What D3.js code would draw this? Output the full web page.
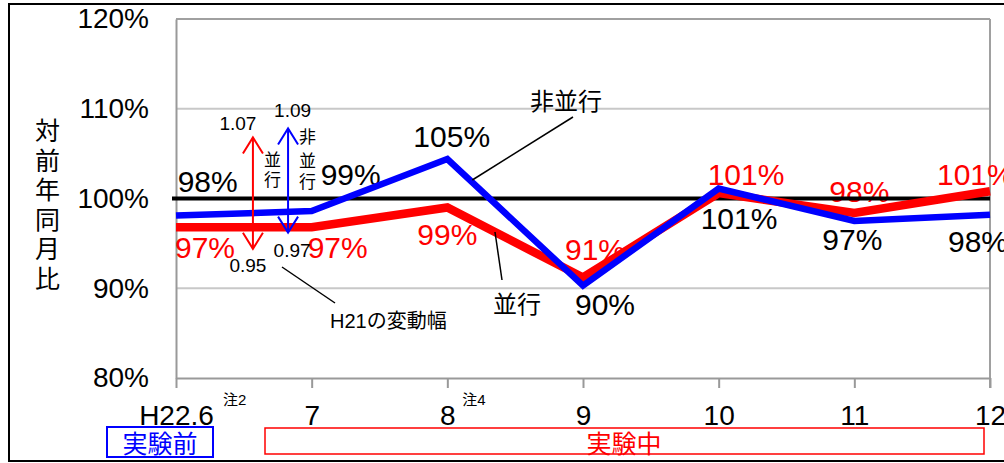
<!DOCTYPE html>
<html>
<head>
<meta charset="utf-8">
<script src="https://cdn.jsdelivr.net/npm/d3@7"></script>
<style>
  html, body { margin: 0; padding: 0; background: #fff; }
  svg { display: block; font-family: "Liberation Sans", Arial, "Noto Sans CJK JP", sans-serif; }
</style>
</head>
<body>
<svg id="chart" width="1004" height="463"></svg>
<script>
// ---- data ----
const categories = ["H22.6", "7", "8", "9", "10", "11", "12"];
const heikou   = [96.8, 96.8, 99.0, 91.2, 100.6, 98.4, 100.8];   // 並行 (red)
const hiheikou = [98.1, 98.6, 104.4, 90.3, 101.1, 97.5, 98.2];   // 非並行 (blue)
const heikouLabels   = ["97%", "97%", "99%", "91%", "101%", "98%", "101%"];
const hiheikouLabels = ["98%", "99%", "105%", "90%", "101%", "97%", "98%"];
const yTicks = [80, 90, 100, 110, 120];
const yTickLabels = ["80%", "90%", "100%", "110%", "120%"];
const baseline = 100;
// H21 variation ranges (並行, 非並行)
const rangeLabelsTop = ["1.07", "1.09"];
const rangeLabelsBottom = ["0.95", "0.97"];
const rangeTop = [106.8, 107.8];
const rangeBottom = [94.4, 96.2];

// ---- layout ----
const heikouOffsets   = [[-1, 31], [-4, 31], [-30, 37.5], [-18, -17], [-11, -8], [-25, -11], [-53, -6]];
const hiheikouOffsets = [[1.7, -24], [9, -26], [-34, -12], [-8, 29.5], [-18, 40], [-32, 29], [-42, 37.6]];

const svg = d3.select("#chart");
const x = d3.scalePoint().domain(categories).range([176, 990]);
const y = d3.scaleLinear().domain([80, 120]).range([378, 19]);
const step = x.step();

// outer border
svg.append("rect").attr("x", 9).attr("y", 4).attr("width", 1010).attr("height", 457)
  .attr("fill", "none").attr("stroke", "#000").attr("stroke-width", 2);

// gridlines
svg.append("g").selectAll("line").data(yTicks.filter(d => d > 80)).join("line")
  .attr("x1", 176).attr("x2", 990)
  .attr("y1", d => y(d)).attr("y2", d => y(d))
  .attr("stroke", d => d === 120 ? "#a0a0a0" : "#c8c8c8").attr("stroke-width", 2);
// right frame
svg.append("line").attr("x1", 990).attr("x2", 990).attr("y1", y(120)).attr("y2", y(80) + 10)
  .attr("stroke", "#a0a0a0").attr("stroke-width", 2);

// y axis
const yAxis = d3.axisLeft(y).tickValues(yTicks).tickFormat((d, i) => yTickLabels[i]).tickSize(0).tickPadding(27);
const gy = svg.append("g").attr("transform", "translate(176,0)").call(yAxis);
gy.select(".domain").attr("stroke", "#999").attr("stroke-width", 2);
gy.selectAll("text").attr("font-size", 28).attr("fill", "#000")
  .attr("font-family", "'Liberation Sans', Arial, sans-serif");

// x axis
const xAxis = d3.axisBottom(x).tickSize(10).tickSizeOuter(0).tickPadding(0);
const gx = svg.append("g").attr("transform", "translate(0,378)").call(xAxis);
gx.select(".domain").attr("stroke", "#999").attr("stroke-width", 2);
gx.selectAll(".tick line").attr("stroke", "#999").attr("stroke-width", 2);
gx.selectAll("text").attr("font-size", 28).attr("fill", "#000").attr("dy", null).attr("y", 47)
  .attr("font-family", "'Liberation Sans', Arial, sans-serif");

// 注 superscripts
svg.append("text").attr("x", x("H22.6") + 47).attr("y", 405).attr("font-size", 15).text("注2");
svg.append("text").attr("x", x("8") + 15).attr("y", 405).attr("font-size", 15).text("注4");

// y title (vertical)
const yTitle = "対前年同月比".split("");
svg.append("g").selectAll("text").data(yTitle).join("text")
  .attr("x", 47.5).attr("y", (d, i) => 129 + i * 29.6)
  .attr("text-anchor", "middle").attr("dominant-baseline", "central")
  .attr("font-size", 25).attr("font-family", "'Noto Sans CJK JP', sans-serif")
  .text(d => d);

// data labels (drawn beneath lines)
svg.append("g").selectAll("text").data(categories).join("text")
  .attr("x", (d, i) => x(d) + hiheikouOffsets[i][0])
  .attr("y", (d, i) => y(hiheikou[i]) + hiheikouOffsets[i][1])
  .attr("font-size", 30).attr("fill", "#000").text((d, i) => hiheikouLabels[i]);
svg.append("g").selectAll("text").data(categories).join("text")
  .attr("x", (d, i) => x(d) + heikouOffsets[i][0])
  .attr("y", (d, i) => y(heikou[i]) + heikouOffsets[i][1])
  .attr("font-size", 30).attr("fill", "#ff0000").text((d, i) => heikouLabels[i]);

// 100% baseline
svg.append("line").attr("x1", 172).attr("x2", 990)
  .attr("y1", y(baseline)).attr("y2", y(baseline))
  .attr("stroke", "#000").attr("stroke-width", 4);

// series lines
const line = d3.line().x((d, i) => x(categories[i])).y(d => y(d));
svg.append("path").datum(heikou).attr("d", line)
  .attr("fill", "none").attr("stroke", "#ff0000").attr("stroke-width", 8.5)
  .attr("stroke-linejoin", "miter");
svg.append("path").datum(hiheikou).attr("d", line)
  .attr("fill", "none").attr("stroke", "#0000ff").attr("stroke-width", 6.5)
  .attr("stroke-linejoin", "miter");

// series callouts
svg.append("line").attr("x1", 573).attr("y1", 117).attr("x2", x("8") + 25).attr("y2", y(hiheikou[2]) + 21)
  .attr("stroke", "#000").attr("stroke-width", 1.5);
svg.append("text").attr("x", 530).attr("y", 110).attr("font-size", 24)
  .attr("font-family", "'Noto Sans CJK JP', sans-serif").text("非並行");
svg.append("line").attr("x1", 495).attr("y1", 232).attr("x2", 502).attr("y2", 280)
  .attr("stroke", "#000").attr("stroke-width", 1.5);
svg.append("text").attr("x", 493).attr("y", 313).attr("font-size", 24)
  .attr("font-family", "'Noto Sans CJK JP', sans-serif").text("並行");

// H21 range arrows
const arrowColors = ["#ff0000", "#0000ff"];
const arrowFrac = [0.567, 0.826];
const arrowX = arrowFrac.map(f => x(categories[0]) + f * step);
const topLabelShift = [[-15, -7], [4.5, -11]];
const ag = svg.append("g");
arrowX.forEach((ax, i) => {
  const t = y(rangeTop[i]), b = y(rangeBottom[i]);
  ag.append("line").attr("x1", ax).attr("x2", ax).attr("y1", t).attr("y2", b)
    .attr("stroke", arrowColors[i]).attr("stroke-width", 2);
  ag.append("path").attr("d", `M${ax - 10},${t + 16}L${ax},${t}L${ax + 10},${t + 16}`)
    .attr("fill", "none").attr("stroke", arrowColors[i]).attr("stroke-width", 2);
  ag.append("path").attr("d", `M${ax - 10},${b - 16}L${ax},${b}L${ax + 10},${b - 16}`)
    .attr("fill", "none").attr("stroke", arrowColors[i]).attr("stroke-width", 2);
  ag.append("text").attr("x", ax + topLabelShift[i][0]).attr("y", t + topLabelShift[i][1])
    .attr("text-anchor", "middle").attr("font-size", 19).text(rangeLabelsTop[i]);
});
// bottom values
ag.append("text").attr("x", arrowX[0] - 5).attr("y", 272).attr("text-anchor", "middle")
  .attr("font-size", 19).text(rangeLabelsBottom[0]);
ag.append("text").attr("x", arrowX[1] + 4).attr("y", 257).attr("text-anchor", "middle")
  .attr("font-size", 19).text(rangeLabelsBottom[1]);
// vertical labels
const vlab = [["並", "行"], ["非", "並", "行"]];
const vlabY = [[158, 178], [135, 159, 180]];
vlab.forEach((chars, i) => {
  ag.append("g").selectAll("text").data(chars).join("text")
    .attr("x", arrowX[i] + 19.5).attr("y", (d, j) => vlabY[i][j])
    .attr("text-anchor", "middle").attr("dominant-baseline", "central")
    .attr("font-size", 17).attr("font-family", "'Noto Sans CJK JP', sans-serif").text(d => d);
});
ag.append("line").attr("x1", 282).attr("y1", 267).attr("x2", 335).attr("y2", 303)
  .attr("stroke", "#000").attr("stroke-width", 1.5);
ag.append("text").attr("x", 330).attr("y", 328).attr("font-size", 20).text("H21の変動幅");

// bottom period boxes
svg.append("rect").attr("x", 107).attr("y", 427).attr("width", 106).attr("height", 30)
  .attr("fill", "none").attr("stroke", "#0000ff").attr("stroke-width", 2);
svg.append("text").attr("x", 160).attr("y", 442).attr("text-anchor", "middle")
  .attr("dominant-baseline", "central").attr("font-size", 25).attr("fill", "#0000ff")
  .attr("font-family", "'Noto Sans CJK JP', sans-serif").text("実験前");
svg.append("rect").attr("x", 265).attr("y", 428).attr("width", 719).attr("height", 26)
  .attr("fill", "none").attr("stroke", "#ff0000").attr("stroke-width", 1.5);
svg.append("text").attr("x", 624).attr("y", 442).attr("text-anchor", "middle")
  .attr("dominant-baseline", "central").attr("font-size", 25).attr("fill", "#ff0000")
  .attr("font-family", "'Noto Sans CJK JP', sans-serif").text("実験中");
</script>
</body>
</html>
